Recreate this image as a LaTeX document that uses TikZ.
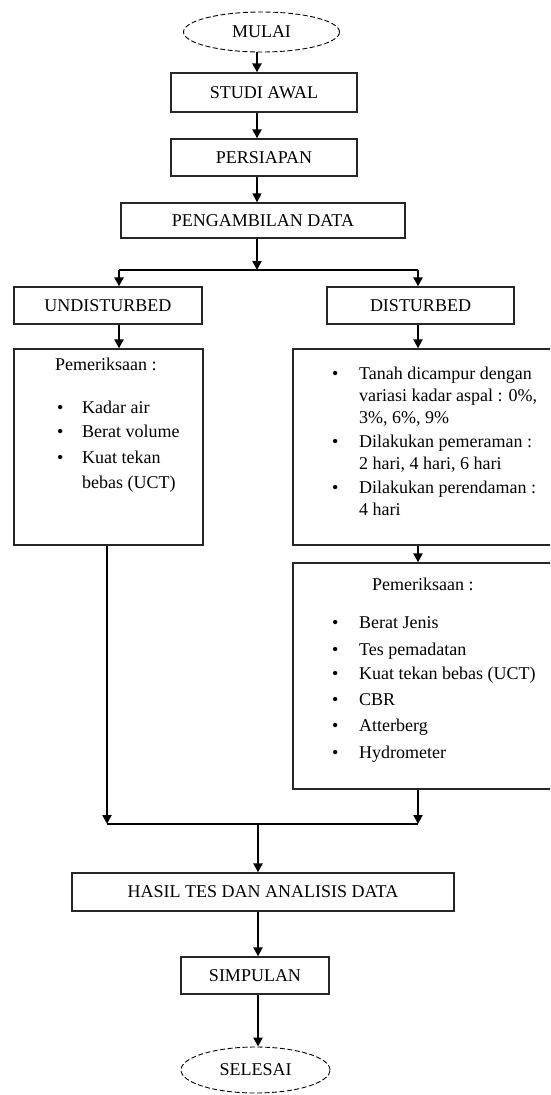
\documentclass[tikz,border=0pt]{standalone}
\usepackage{fontspec}
\setmainfont{Liberation Serif}
\usetikzlibrary{shapes.geometric,arrows.meta}
\newcommand{\fsz}{\fontsize{18}{24}\selectfont}
\tikzset{
  box/.style={draw, line width=1.3pt, draw=black!85, rectangle, inner sep=0pt, font=\fsz},
  term/.style={draw, dash pattern=on 5pt off 2.5pt, ellipse, line width=0.9pt, inner sep=0pt, font=\fsz},
  arr/.style={line width=2.3pt, -{Triangle[length=9pt,width=9pt]}},
  thinarr/.style={line width=1.3pt, -{Triangle[length=9pt,width=9pt]}},
  ln/.style={line width=1.4pt},
  txt/.style={anchor=base west, inner sep=0pt, font=\fsz},
}
\begin{document}
\begin{tikzpicture}[x=1pt,y=-1pt]
\path[use as bounding box] (0,0) rectangle (550,1095);
\fill[white] (0,0) rectangle (550,1095);
\clip (0,0) rectangle (550,1095);
% axis of the main column
\coordinate (ax) at (257,0);
% nodes
\node[term, minimum width=156pt, minimum height=40pt] (mulai) at (261.5,32) {MULAI};
\node[box, minimum width=186pt, minimum height=39pt] (studi) at (264,92.5) {STUDI AWAL};
\node[box, minimum width=186pt, minimum height=37pt] (persiapan) at (264,157.5) {PERSIAPAN};
\node[box, minimum width=284pt, minimum height=35pt] (ambil) at (263,220.5) {PENGAMBILAN DATA};
\node[box, minimum width=188pt, minimum height=37pt] (undist) at (108,305.5) {UNDISTURBED};
\node[box, minimum width=187pt, minimum height=37pt] (dist) at (420.5,305.5) {DISTURBED};
\node[box, minimum width=189pt, minimum height=196pt] (lbox) at (108.5,447) {};
\node[box, minimum width=267pt, minimum height=196pt] (rbox1) at (426.5,447) {};
\node[box, minimum width=267pt, minimum height=226pt] (rbox2) at (426.5,676) {};
\node[box, minimum width=382pt, minimum height=38pt] (hasil) at (263,892) {HASIL TES DAN ANALISIS DATA};
\node[box, minimum width=148pt, minimum height=37pt] (simpulan) at (255,975.5) {SIMPULAN};
\node[term, minimum width=149pt, minimum height=46pt] (selesai) at (255.5,1070) {SELESAI};
% left box content
\node[txt] (lh) at (55,370) {Pemeriksaan :};
\node[txt] (lb1) at (57,413) {\textbullet};
\node[txt] (lt1) at (82,413) {Kadar air};
\node[txt] (lb2) at (57,437) {\textbullet};
\node[txt] (lt2) at (82,437) {Berat volume};
\node[txt] (lb3) at (57,463) {\textbullet};
\node[txt] (lt3) at (82,463) {Kuat tekan};
\node[txt] (lt3b) at (82,488) {bebas (UCT)};
% right box 1 content
\node[txt] (rb1) at (332,379) {\textbullet};
\node[txt] (rt1a) at (359,379) {Tanah dicampur dengan};
\node[txt] (rt1b) at (359,401) {variasi kadar aspal : 0\%,};
\node[txt] (rt1c) at (359,423) {3\%, 6\%, 9\%};
\node[txt] (rb2) at (332,447) {\textbullet};
\node[txt] (rt2a) at (359,447) {Dilakukan pemeraman :};
\node[txt] (rt2b) at (359,469) {2 hari, 4 hari, 6 hari};
\node[txt] (rb3) at (332,493) {\textbullet};
\node[txt] (rt3a) at (359,493) {Dilakukan perendaman :};
\node[txt] (rt3b) at (359,515) {4 hari};
% right box 2 content
\node[txt] (r2h) at (372,590) {Pemeriksaan :};
\node[txt] (sb1) at (332,628) {\textbullet};
\node[txt] (st1) at (359,628) {Berat Jenis};
\node[txt] (sb2) at (332,655) {\textbullet};
\node[txt] (st2) at (359,655) {Tes pemadatan};
\node[txt] (sb3) at (332,679) {\textbullet};
\node[txt] (st3) at (359,679) {Kuat tekan bebas (UCT)};
\node[txt] (sb4) at (332,705) {\textbullet};
\node[txt] (st4) at (359,705) {CBR};
\node[txt] (sb5) at (332,731) {\textbullet};
\node[txt] (st5) at (359,731) {Atterberg};
\node[txt] (sb6) at (332,758) {\textbullet};
\node[txt] (st6) at (359,758) {Hydrometer};
% junction coordinates
\coordinate (jt) at (257,270);
\coordinate (jtl) at (119,270);
\coordinate (jtr) at (418,270);
\coordinate (jl) at (107,824);
\coordinate (jr) at (418,824);
\coordinate (jm) at (258,824);
% connectors
\draw[arr] (mulai.south -| ax) -- (studi.north -| ax);
\draw[arr] (studi.south -| ax) -- (persiapan.north -| ax);
\draw[thinarr] (persiapan.south -| ax) -- (ambil.north -| ax);
\draw[arr] (ambil.south -| ax) -- (jt);
\draw[ln] (jtl) -- (jtr);
\draw[arr] (jtl) -- (undist.north -| jtl);
\draw[arr] (jtr) -- (dist.north -| jtr);
\draw[arr] (undist.south -| jtl) -- (lbox.north -| jtl);
\draw[arr] (dist.south -| jtr) -- (rbox1.north -| jtr);
\draw[arr] (rbox1.south -| jtr) -- (rbox2.north -| jtr);
\draw[arr] (lbox.south -| jl) -- (jl);
\draw[arr] (rbox2.south -| jr) -- (jr);
\draw[ln] (jl) -- (jr);
\draw[arr] (jm) -- (hasil.north -| jm);
\draw[arr] (hasil.south -| jm) -- (simpulan.north -| jm);
\draw[arr] (simpulan.south -| jm) -- (selesai.north -| jm);
\end{tikzpicture}
\end{document}
